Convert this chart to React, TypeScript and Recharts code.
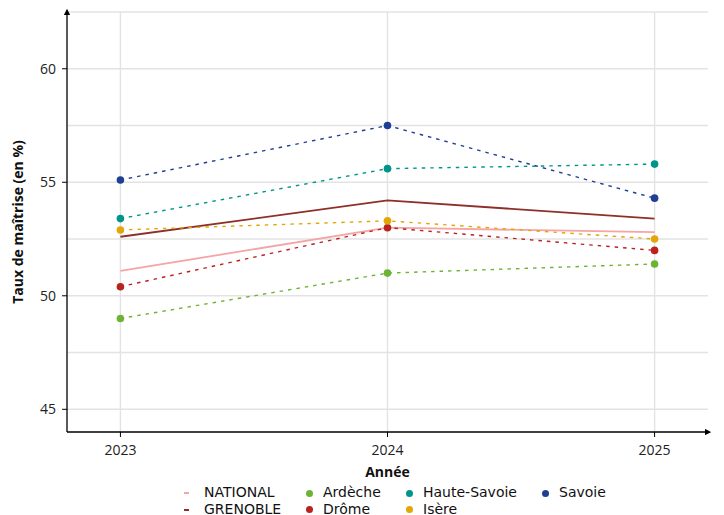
import {
  LineChart,
  Line,
  XAxis,
  YAxis,
  CartesianGrid,
} from "recharts";

const years = [2023, 2024, 2025];

const national = [51.1, 53.0, 52.8];
const grenoble = [52.6, 54.2, 53.4];
const ardeche = [49.0, 51.0, 51.4];
const drome = [50.4, 53.0, 52.0];
const hauteSavoie = [53.4, 55.6, 55.8];
const isere = [52.9, 53.3, 52.5];
const savoie = [55.1, 57.5, 54.3];

const yTicks = [45, 50, 55, 60];
const yGrid = [45, 47.5, 50, 52.5, 55, 57.5, 60, 62.5];

const series = [
  { name: "NATIONAL", values: national, color: "#f4a5a5", dashed: false },
  { name: "GRENOBLE", values: grenoble, color: "#8e2f28", dashed: false },
  { name: "Ardèche", values: ardeche, color: "#6cb431", dashed: true },
  { name: "Drôme", values: drome, color: "#b8221f", dashed: true },
  { name: "Haute-Savoie", values: hauteSavoie, color: "#00958a", dashed: true },
  { name: "Isère", values: isere, color: "#e2a706", dashed: true },
  { name: "Savoie", values: savoie, color: "#1e3f93", dashed: true },
];

// legend columns, as in the picture
const legendCols = [
  ["NATIONAL", "GRENOBLE"],
  ["Ardèche", "Drôme"],
  ["Haute-Savoie", "Isère"],
  ["Savoie"],
];
const legendLefts = [184, 306, 406, 542];

const data = years.map((y, i) => {
  const row: Record<string, number> = { annee: y };
  series.forEach((s) => {
    row[s.name] = s.values[i];
  });
  return row;
});

const font = "'Open Sans', 'Noto Sans', sans-serif";
const legendFont = "'DejaVu Sans', sans-serif";

function LegendKey({ s }: { s: (typeof series)[number] }) {
  if (!s.dashed) {
    return (
      <span
        style={{
          display: "inline-block",
          width: 5,
          height: 2,
          background: s.color,
          marginRight: 15,
          verticalAlign: "middle",
        }}
      />
    );
  }
  return (
    <span
      style={{
        display: "inline-block",
        width: 7,
        height: 7,
        borderRadius: "50%",
        background: s.color,
        marginRight: 10,
        verticalAlign: "middle",
      }}
    />
  );
}

export default function App() {
  return (
    <div
      style={{
        position: "absolute",
        left: 0,
        top: 0,
        width: 724,
        height: 515,
        background: "#fff",
        fontFamily: font,
      }}
    >
      <LineChart
        width={724}
        height={515}
        data={data}
        margin={{ top: 12, right: 16, left: 0, bottom: 0 }}
      >
        <defs>
          <marker
            id="arrow"
            viewBox="0 0 10 10"
            refX="5"
            refY="5"
            markerWidth="5"
            markerHeight="5"
            orient="auto-start-reverse"
          >
            <path d="M0,0 L10,5 L0,10 z" fill="#000" />
          </marker>
        </defs>

        <CartesianGrid
          stroke="#e3e3e3"
          strokeWidth={1.4}
          horizontalValues={yGrid}
          verticalValues={years}
        />

        <XAxis
          dataKey="annee"
          type="number"
          domain={[2022.8, 2025.2]}
          ticks={years}
          allowDataOverflow
          height={83}
          tickSize={5}
          tickMargin={8}
          tickLine={{ stroke: "#000" }}
          axisLine={{ stroke: "#000", strokeWidth: 1.3, markerEnd: "url(#arrow)" }}
          tick={{ fontSize: 14, fill: "#222", fontFamily: font }}
          label={{
            value: "Année",
            position: "insideTop",
            offset: 35,
            style: { fontSize: 14, fontWeight: 700, fill: "#111", fontFamily: font },
          }}
        />

        <YAxis
          type="number"
          domain={[44, 62.5]}
          ticks={yTicks}
          allowDataOverflow
          width={67}
          tickSize={5}
          tickMargin={6}
          tickLine={{ stroke: "#000" }}
          axisLine={{ stroke: "#000", strokeWidth: 1.3, markerStart: "url(#arrow)" }}
          tick={{ fontSize: 14, fill: "#222", fontFamily: font }}
          label={{
            value: "Taux de maîtrise (en %)",
            angle: -90,
            position: "insideLeft",
            offset: 18,
            style: {
              textAnchor: "middle",
              fontSize: 14,
              fontWeight: 700,
              fill: "#111",
              fontFamily: font,
            },
          }}
        />

        {series.map((s) => (
          <Line
            key={s.name}
            dataKey={s.name}
            type="linear"
            stroke={s.color}
            strokeWidth={s.dashed ? 1.4 : 1.8}
            strokeDasharray={s.dashed ? "3.5 5" : undefined}
            dot={s.dashed ? { r: 3.8, fill: s.color, stroke: s.color, strokeWidth: 0 } : false}
            activeDot={false}
            isAnimationActive={false}
          />
        ))}
      </LineChart>

      {legendCols.map((col, ci) => (
        <div
          key={ci}
          style={{
            position: "absolute",
            left: legendLefts[ci],
            top: 484,
            fontFamily: legendFont,
            fontSize: 14,
            lineHeight: "16.5px",
            color: "#111",
          }}
        >
          {col.map((name) => {
            const s = series.find((x) => x.name === name)!;
            return (
              <div key={name} style={{ whiteSpace: "nowrap" }}>
                <LegendKey s={s} />
                {name}
              </div>
            );
          })}
        </div>
      ))}
    </div>
  );
}
